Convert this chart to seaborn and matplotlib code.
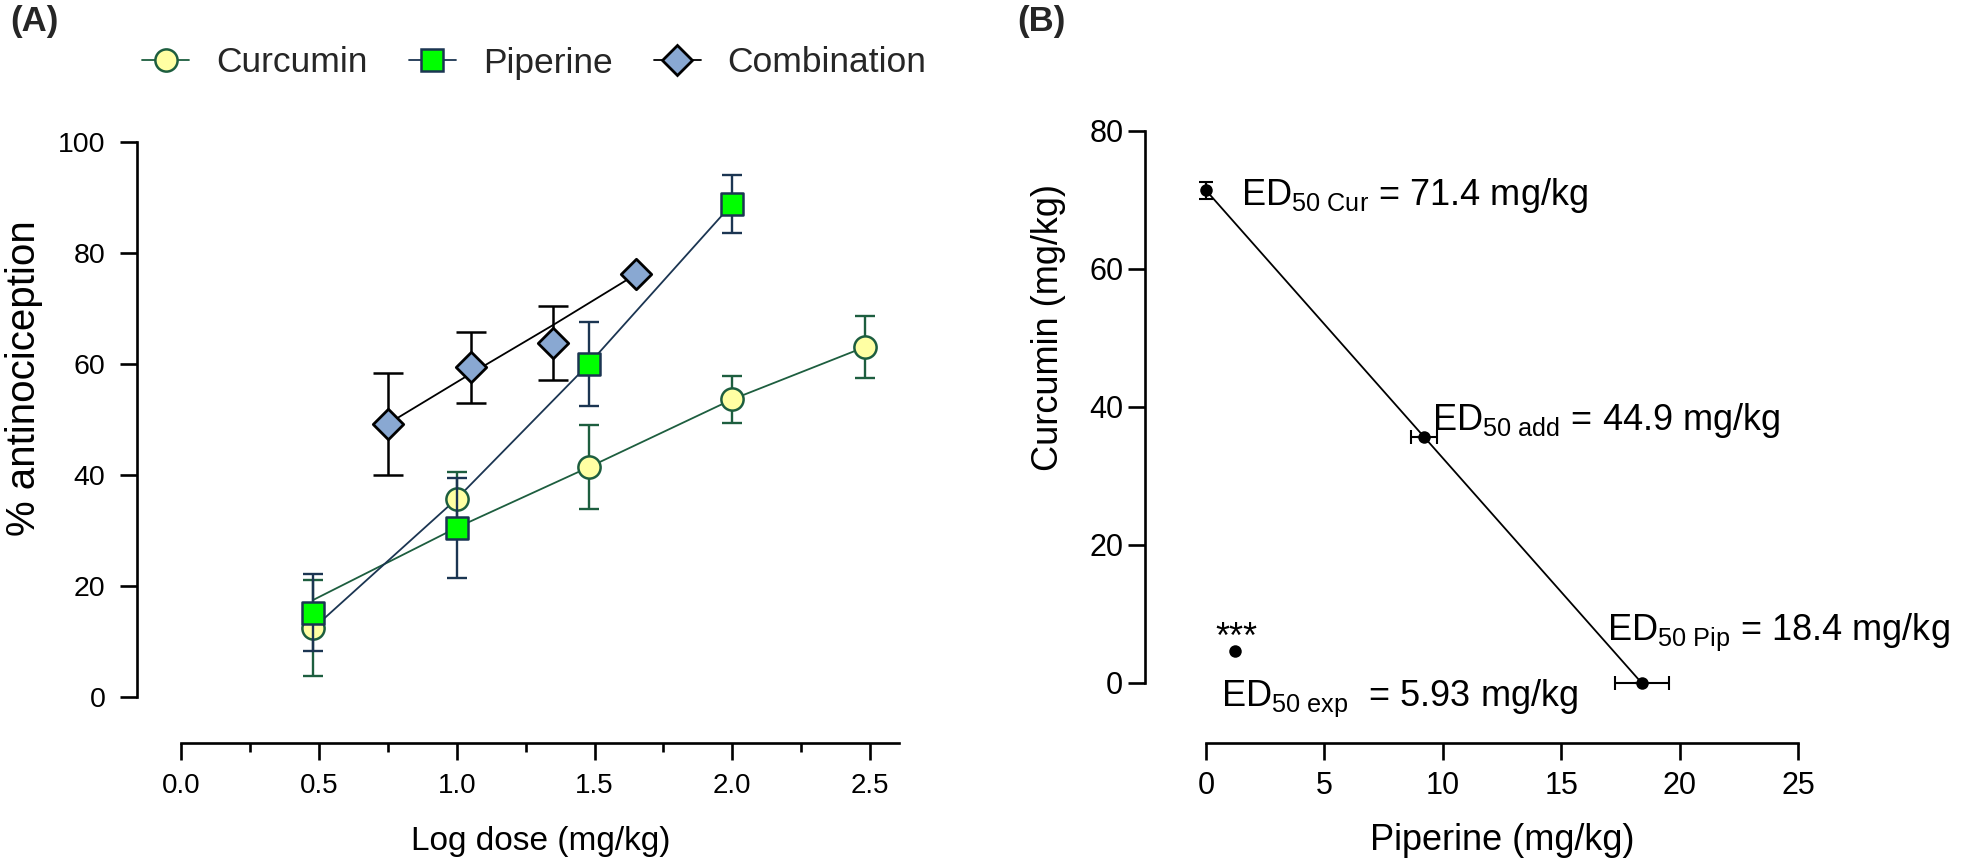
import matplotlib
matplotlib.use("Agg")
import matplotlib.pyplot as plt
import seaborn as sns
from matplotlib.lines import Line2D

# ---------------- Panel A data ----------------
cur_x = [0.48, 1.0, 1.48, 2.0, 2.48]
cur_y = [12.4, 35.7, 41.4, 53.6, 63.0]
cur_err = [8.6, 4.9, 7.6, 4.2, 5.6]
cur_fit = [17.5, 30.5, 41.4, 53.6, 63.0]

pip_x = [0.48, 1.0, 1.48, 2.0]
pip_y = [15.2, 30.5, 60.0, 88.8]
pip_err = [7.0, 9.0, 7.6, 5.2]
pip_fit = [12.4, 35.7, 60.0, 88.8]

com_x = [0.75, 1.05, 1.35, 1.65]
com_y = [49.2, 59.4, 63.7, 76.1]
com_err = [9.2, 6.4, 6.7, 0.0]
com_fit = [49.2, 58.2, 67.0, 76.1]

series_names = ["Curcumin", "Piperine", "Combination"]
a_xticks = [0.0, 0.5, 1.0, 1.5, 2.0, 2.5]
a_yticks = [0, 20, 40, 60, 80, 100]

# ---------------- Panel B data ----------------
iso_pip = [0.0, 9.2, 18.4]
iso_cur = [71.4, 35.7, 0.0]
iso_pip_err = [0.0, 0.56, 1.14]
iso_cur_err = [1.2, 0.0, 0.0]
exp_pip = [1.22]
exp_cur = [4.68]
b_xticks = [0, 5, 10, 15, 20, 25]
b_yticks = [0, 20, 40, 60, 80]
ed_labels = [r"ED$_{\mathregular{50\ Cur}}$ = 71.4 mg/kg",
             r"ED$_{\mathregular{50\ add}}$ = 44.9 mg/kg",
             r"ED$_{\mathregular{50\ Pip}}$ = 18.4 mg/kg",
             r"ED$_{\mathregular{50\ exp}}$  = 5.93 mg/kg"]
ed_label_pos = [(1.48, 69.3), (9.53, 36.7), (16.95, 6.2), (0.63, -3.4)]

sns.set_theme(style="ticks")
plt.rcParams["font.family"] = ["Liberation Sans", "DejaVu Sans"]
plt.rcParams["mathtext.fontset"] = "custom"
plt.rcParams["mathtext.rm"] = "Liberation Sans"
plt.rcParams["mathtext.it"] = "Liberation Sans:italic"
plt.rcParams["mathtext.bf"] = "Liberation Sans:bold"

W, H = 1961, 866
fig = plt.figure(figsize=(W / 100, H / 100), dpi=100)

def px_axes(l, r, top, bot):
    return fig.add_axes([l / W, (H - bot) / H, (r - l) / W, (bot - top) / H])

CUR_FACE, CUR_EDGE = "#FFFFA3", "#1D5E3F"
PIP_FACE, PIP_EDGE = "#00FF00", "#1B3552"
COM_FACE, COM_EDGE = "#89A8D2", "#000000"

# ---------------- Panel A ----------------
axA = px_axes(181.2, 899, 141.7, 697)
axA.set_xlim(0, 2.605)
axA.set_ylim(0, 100)

sns.lineplot(x=cur_x, y=cur_fit, ax=axA, color=CUR_EDGE, lw=1.3, zorder=2)
sns.lineplot(x=pip_x, y=pip_fit, ax=axA, color=PIP_EDGE, lw=1.3, zorder=2)
sns.lineplot(x=com_x, y=com_fit, ax=axA, color=COM_EDGE, lw=1.3, zorder=2)

axA.errorbar(cur_x, cur_y, yerr=cur_err, fmt="none", ecolor=CUR_EDGE,
             elinewidth=1.7, capsize=7.5, capthick=1.7, zorder=3, clip_on=False)
sns.scatterplot(x=cur_x, y=cur_y, ax=axA, marker="o", s=16 ** 2, color=CUR_FACE,
                edgecolor=CUR_EDGE, linewidth=1.8, zorder=4, clip_on=False)
axA.errorbar(pip_x, pip_y, yerr=pip_err, fmt="none", ecolor=PIP_EDGE,
             elinewidth=1.7, capsize=7.5, capthick=1.7, zorder=5, clip_on=False)
sns.scatterplot(x=pip_x, y=pip_y, ax=axA, marker="s", s=16 ** 2, color=PIP_FACE,
                edgecolor=PIP_EDGE, linewidth=1.8, zorder=6, clip_on=False)
axA.errorbar(com_x, com_y, yerr=com_err, fmt="none", ecolor=COM_EDGE,
             elinewidth=1.8, capsize=11, capthick=1.8, zorder=7, clip_on=False)
sns.scatterplot(x=com_x, y=com_y, ax=axA, marker="D", s=15.5 ** 2, color=COM_FACE,
                edgecolor=COM_EDGE, linewidth=2.0, zorder=8, clip_on=False)

for s in ["top", "right"]:
    axA.spines[s].set_visible(False)
axA.spines["left"].set_position(("outward", 32))
axA.spines["bottom"].set_position(("outward", 33))
axA.spines["left"].set_bounds(0, 100)
axA.spines["bottom"].set_bounds(0, 2.605)
for s in ["left", "bottom"]:
    axA.spines[s].set_linewidth(1.9)
    axA.spines[s].set_color("black")
axA.set_xticks(a_xticks)
axA.set_xticklabels([f"{v:.1f}" for v in a_xticks])
axA.set_xticks([0.25, 0.75, 1.25, 1.75, 2.25], minor=True)
axA.set_yticks(a_yticks)
axA.tick_params(axis="both", which="major", length=12.5, width=1.9, color="black",
                labelcolor="black", labelsize=20.5, direction="out")
axA.tick_params(axis="x", which="minor", length=6.5, width=1.9, color="black", direction="out")
axA.tick_params(axis="x", which="major", labelsize=20, pad=9.5)
axA.tick_params(axis="y", which="major", pad=10)
axA.set_xlabel("Log dose (mg/kg)", fontsize=24, color="black", va="baseline")
axA.xaxis.set_label_coords(0.501, -0.2755)
axA.set_ylabel("% antinociception", fontsize=29, color="black", va="center")
axA.yaxis.set_label_coords(-0.2187, 0.575)

handles = [
    Line2D([], [], color=CUR_EDGE, lw=1.3, marker="o", ms=16, mfc=CUR_FACE, mec=CUR_EDGE, mew=1.8),
    Line2D([], [], color=PIP_EDGE, lw=1.3, marker="s", ms=16, mfc=PIP_FACE, mec=PIP_EDGE, mew=1.8),
    Line2D([], [], color=COM_EDGE, lw=1.3, marker="D", ms=15, mfc=COM_FACE, mec=COM_EDGE, mew=2.0),
]
fig.legend(handles, series_names, loc="center", bbox_to_anchor=(534.5 / W, 1 - 63 / H),
           ncol=3, frameon=False, fontsize=25.5, handlelength=1.33, handletextpad=0.76,
           columnspacing=1.16, borderaxespad=0, borderpad=0)

fig.text(10 / W, 1 - 21 / H, "(A)", fontsize=25, fontweight="bold", va="center", ha="left")
fig.text(1017 / W, 1 - 21 / H, "(B)", fontsize=25, fontweight="bold", va="center", ha="left")

# ---------------- Panel B ----------------
axB = px_axes(1206, 1798, 131, 683)
axB.set_xlim(0, 25)
axB.set_ylim(0, 80)

sns.lineplot(x=iso_pip, y=iso_cur, ax=axB, color="black", lw=1.3, zorder=2)
axB.errorbar(iso_pip, iso_cur, xerr=iso_pip_err, yerr=iso_cur_err, fmt="none",
             ecolor="black", elinewidth=1.5, capsize=4.7, capthick=1.5, zorder=3, clip_on=False)
sns.scatterplot(x=iso_pip, y=iso_cur, ax=axB, marker="o", s=9 ** 2, color="black",
                edgecolor="black", linewidth=0, zorder=4, clip_on=False)
sns.scatterplot(x=exp_pip, y=exp_cur, ax=axB, marker="o", s=9 ** 2, color="black",
                edgecolor="black", linewidth=0, zorder=4, clip_on=False)
axB.text(exp_pip[0] + 0.05, exp_cur[0] + 0.45, "***", fontsize=26, ha="center", va="baseline",
         color="black")

for lab, (tx, ty) in zip(ed_labels, ed_label_pos):
    axB.text(tx, ty, lab, fontsize=26, ha="left", va="baseline", color="black", clip_on=False)

for s in ["top", "right"]:
    axB.spines[s].set_visible(False)
axB.spines["left"].set_position(("outward", 44))
axB.spines["bottom"].set_position(("outward", 43))
axB.spines["left"].set_bounds(0, 80)
axB.spines["bottom"].set_bounds(0, 25)
for s in ["left", "bottom"]:
    axB.spines[s].set_linewidth(1.9)
    axB.spines[s].set_color("black")
axB.set_xticks(b_xticks)
axB.set_yticks(b_yticks)
axB.tick_params(axis="both", which="major", length=12.5, width=1.9, color="black",
                labelcolor="black", labelsize=22, direction="out")
axB.tick_params(axis="x", pad=8)
axB.tick_params(axis="y", pad=3)
axB.set_xlabel("Piperine (mg/kg)", fontsize=26, color="black", va="baseline")
axB.xaxis.set_label_coords(0.5, -0.3025)
axB.set_ylabel("Curcumin (mg/kg)", fontsize=26, color="black", va="center")
axB.yaxis.set_label_coords(-0.2655, 0.644)

fig.savefig("out.png", dpi=100)
